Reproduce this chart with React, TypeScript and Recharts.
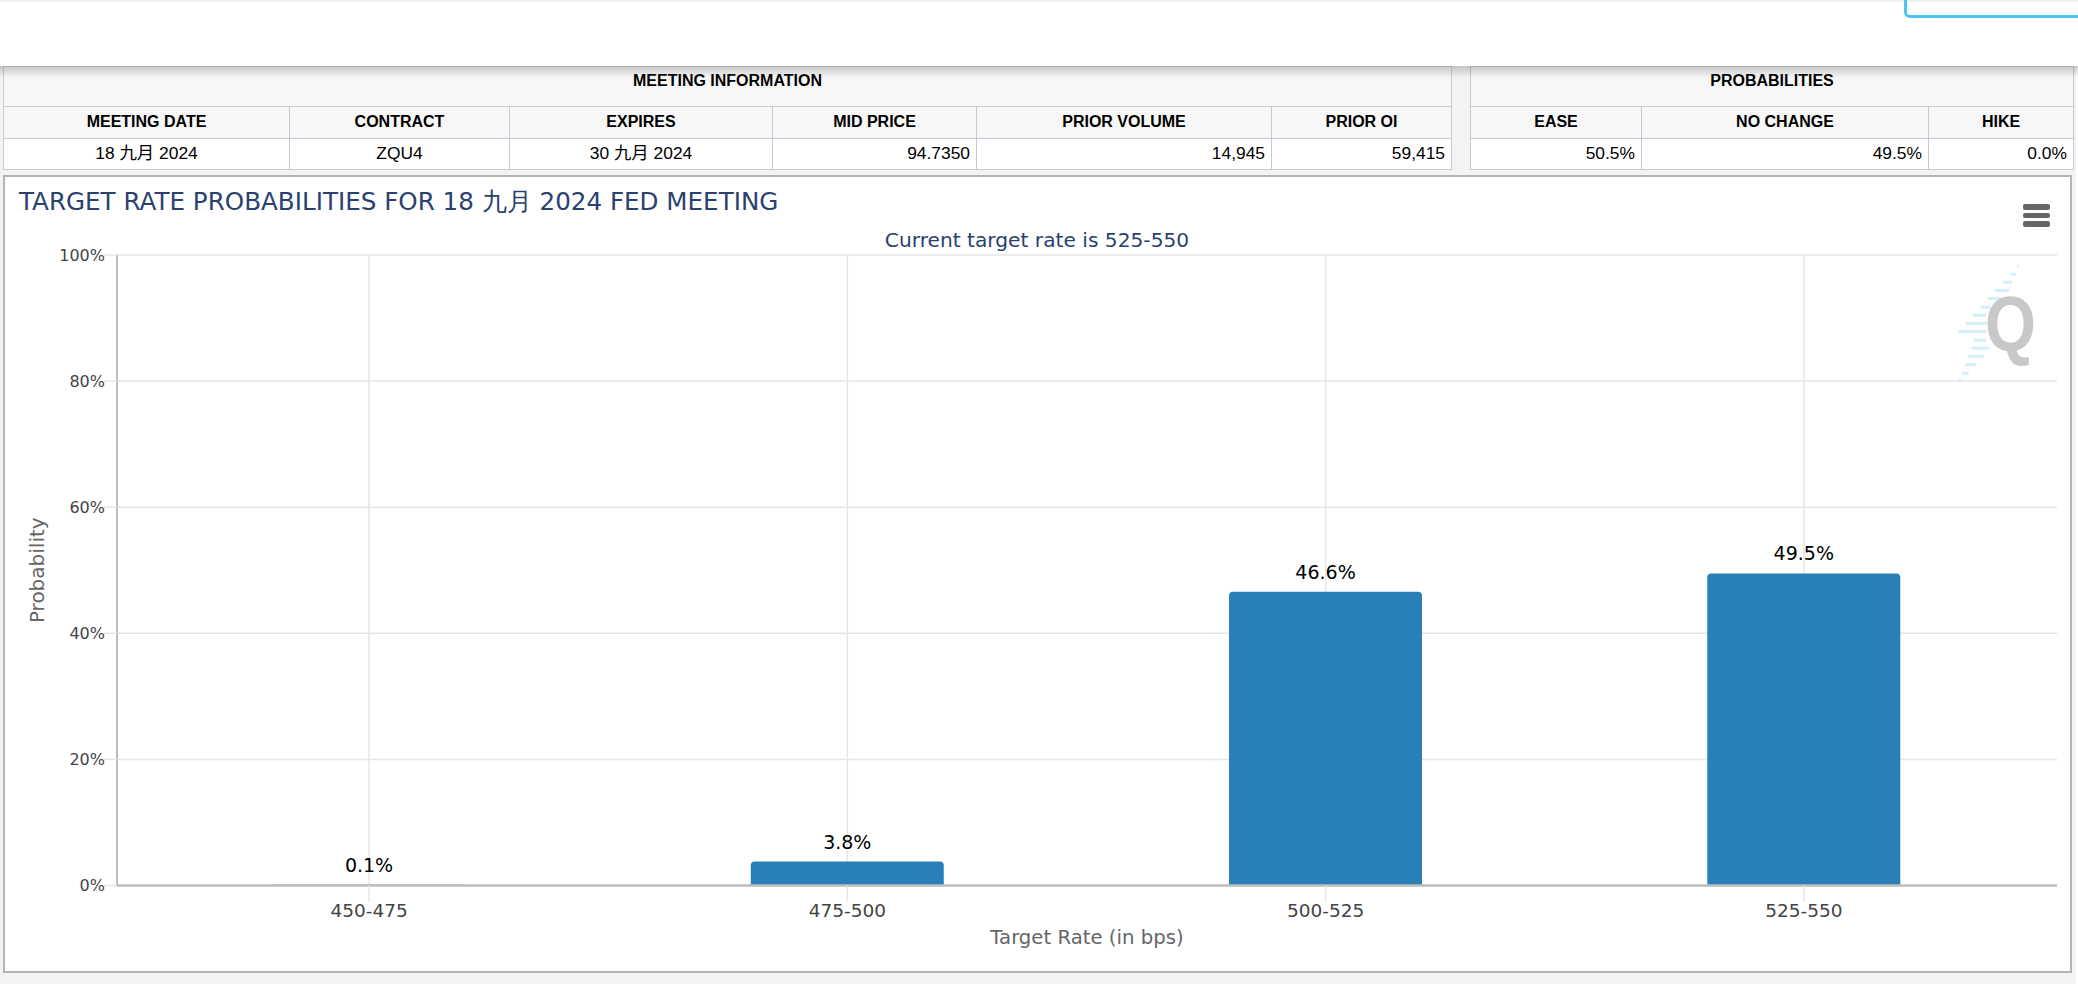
import React from "react";
import { BarChart, Bar, XAxis, YAxis, CartesianGrid, LabelList, Label, ReferenceLine } from "recharts";

const rates = ["450-475", "475-500", "500-525", "525-550"];
const probabilities = [0.1, 3.8, 46.6, 49.5];
const yTicks = [0, 20, 40, 60, 80, 100];
const meetingHeaders = ["MEETING DATE", "CONTRACT", "EXPIRES", "MID PRICE", "PRIOR VOLUME", "PRIOR OI"];
const meetingValues = ["18 九月 2024", "ZQU4", "30 九月 2024", "94.7350", "14,945", "59,415"];
const probHeaders = ["EASE", "NO CHANGE", "HIKE"];
const probValues = ["50.5%", "49.5%", "0.0%"];
const chartData = rates.map((rate, i) => ({ rate, probability: probabilities[i] }));

const W = 2078, H = 984;
const meetingEdges = [3, 289, 509, 772, 976, 1271, 1451];
const probEdges = [1470, 1641, 1928, 2073];
const meetingAlign = ["center", "center", "center", "right", "right", "right"];
const probAlign = ["right", "right", "right"];
const DEJA = '"DejaVu Sans", sans-serif';
const ARIAL = '"Liberation Sans", "Noto Sans CJK SC", sans-serif';
const NAVY = "#2a4170";
const BORDER = "#c9c9d6";
const GRID = "#e6e6e6";
const AXIS = "#bdbdbd";
const dashes = [[62.5,5,1.5],[55.7,12.7,5.3],[48,20.7,9],[40,29,14],[33,37,12],[25.7,45.7,10],[18,53.7,13],[11,62,21],[3.3,70,28],[19,78.7,12],[16.7,86.7,17],[13,94.7,16],[10,103,11],[6.7,111.7,7],[3.3,119,3]];

function abs(left: number, top: number, width: number, height: number, extra: React.CSSProperties = {}): React.CSSProperties {
  return { position: "absolute", left, top, width, height, boxSizing: "border-box", ...extra };
}

function DataTable({ title, headers, values, edges, aligns }: { title: string; headers: string[]; values: string[]; edges: number[]; aligns: string[] }) {
  const l = edges[0], r = edges[edges.length - 1];
  const cell = (x0: number, x1: number, y0: number, y1: number, bg: string, bold: boolean, size: number, align: string, text: string, key: string) => (
    <div key={key} style={abs(x0, y0, x1 - x0 + 1, y1 - y0 + 1, {
      background: bg, border: `1px solid ${BORDER}`, fontFamily: ARIAL, fontSize: size, fontWeight: bold ? 700 : 400,
      color: "#000", lineHeight: `${y1 - y0 - 2}px`, textAlign: align as any, padding: "0 6px", whiteSpace: "nowrap",
    })}>{text}</div>
  );
  return (
    <>
      <div style={abs(l, 66, r - l + 1, 41, { background: "#f7f7f7", border: `1px solid ${BORDER}`, fontFamily: ARIAL, fontSize: 16, fontWeight: 700, textAlign: "center", lineHeight: "28px" })}>
        {title}
      </div>
      {headers.map((h, i) => cell(edges[i], edges[i + 1], 106, 138, "#f7f7f7", true, 16, "center", h, "h" + i))}
      {values.map((v, i) => cell(edges[i], edges[i + 1], 138, 169, "#fff", false, 17.4, aligns[i], v, "v" + i))}
    </>
  );
}

export default function App() {
  return (
    <div style={abs(0, 0, W, H, { background: "#fff", overflow: "hidden" })}>
      <div style={abs(0, 0, W, 2, { background: "#f0f0f0" })} />
      <div style={abs(1904, -6, 190, 23.5, { border: "3px solid #4cc4f4", borderRadius: 6 })} />
      <div style={abs(0, 66, 2076, 906 + 12, { background: "#f3f3f3" })} />
      <DataTable title="MEETING INFORMATION" headers={meetingHeaders} values={meetingValues} edges={meetingEdges} aligns={meetingAlign} />
      <DataTable title="PROBABILITIES" headers={probHeaders} values={probValues} edges={probEdges} aligns={probAlign} />
      <div style={abs(0, 66, W, 12, { background: "linear-gradient(to bottom, rgba(120,120,120,0.38), rgba(120,120,120,0))" })} />
      <div style={abs(3, 175, 2069, 798, { background: "#fff", border: "2px solid #b4b4b4" })} />
      <div style={{ position: "absolute", left: 19, top: 185, fontFamily: DEJA, fontSize: 24.6, color: NAVY, whiteSpace: "nowrap" }}>
        TARGET RATE PROBABILITIES FOR 18 九月 2024 FED MEETING
      </div>
      <div style={{ position: "absolute", left: 87, width: 1900, top: 228, textAlign: "center", fontFamily: DEJA, fontSize: 20.2, color: NAVY, whiteSpace: "nowrap" }}>
        Current target rate is 525-550
      </div>
      <svg style={abs(1955, 260, 120, 125)} viewBox="0 0 120 125">
        {dashes.map(([x, y, w], i) => (
          <rect key={i} x={x} y={y} width={w} height={3} fill="#d5eefc" />
        ))}
        <text x={30} y={91} fontFamily='"Liberation Sans", sans-serif' fontWeight={700} fontSize={78} fill="#c8c8c8" textLength={51} lengthAdjust="spacingAndGlyphs">Q</text>
      </svg>
      <div style={{ position: "absolute", left: 0, top: 0 }}>
        <BarChart width={W} height={H} data={chartData} margin={{ top: 255, right: 21, bottom: 38.5, left: 37 }} barCategoryGap="29.8%">
          <CartesianGrid stroke={GRID} strokeWidth={1.5} syncWithTicks />
          <XAxis dataKey="rate" height={60} tickSize={16} padding={{ left: 13, right: 14 }} stroke={AXIS} strokeWidth={2}
            tick={{ fill: "#444", fontFamily: DEJA, fontSize: 18.5 }} tickLine={{ stroke: GRID, strokeWidth: 1.5 }} interval={0}>
            <Label value="Target Rate (in bps)" position="insideBottom" offset={2} fill="#666" fontFamily={DEJA} fontSize={19.7} />
          </XAxis>
          <YAxis width={80} domain={[0, 100]} ticks={yTicks} tickFormatter={(v: number) => `${v}%`} tickSize={13} tickMargin={0}
            stroke={AXIS} strokeWidth={2} tick={{ fill: "#444", fontFamily: DEJA, fontSize: 16, dx: 1 }} tickLine={{ stroke: GRID, strokeWidth: 1.5 }}>
            <Label value="Probability" angle={-90} position="insideLeft" offset={0} fill="#666" fontFamily={DEJA} fontSize={20} style={{ textAnchor: "middle" }} />
          </YAxis>
          <Bar dataKey="probability" fill="#2980b9" radius={[4, 4, 0, 0]} isAnimationActive={false}>
            <LabelList dataKey="probability" position="top" offset={13} formatter={(v: any) => `${v}%`} fill="#000" fontFamily={DEJA} fontSize={19} />
          </Bar>
          <ReferenceLine y={0} stroke={AXIS} strokeWidth={2} />
        </BarChart>
      </div>
      {[0, 1, 2].map((i) => (
        <div key={i} style={abs(2023, 204 + i * 8.5, 27, 5.5, { background: "#666", borderRadius: 2 })} />
      ))}
    </div>
  );
}
